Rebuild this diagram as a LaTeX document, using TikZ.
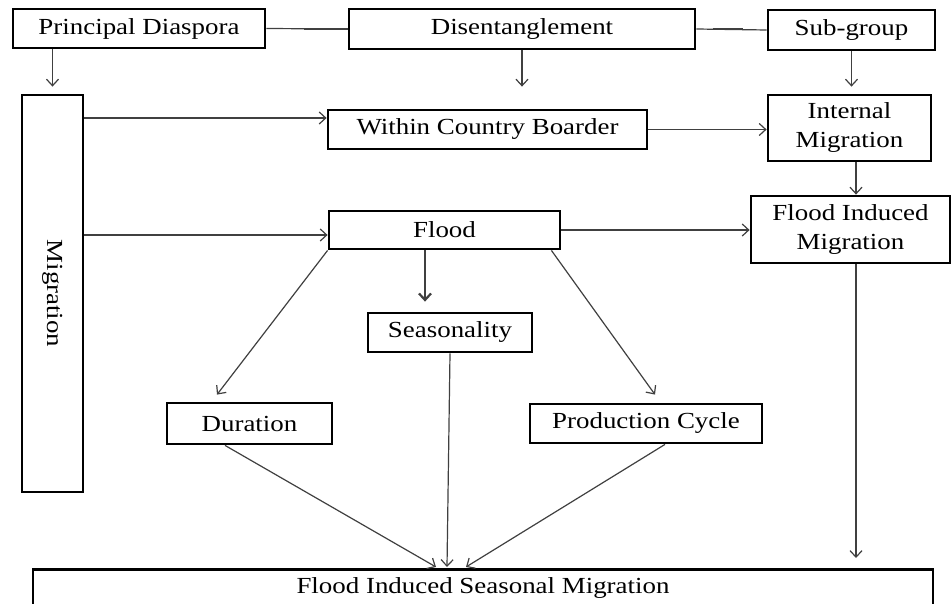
\documentclass[tikz,border=0pt]{standalone}
\usepackage{fontspec}
\setmainfont{Liberation Serif}[FakeStretch=1.17]
\usetikzlibrary{arrows.meta,calc}
\begin{document}
\begin{tikzpicture}[x=1pt,y=-1pt,
  box/.style={draw, line width=2.8pt, inner sep=0pt, font=\fontsize{23}{29}\selectfont, align=center},
  conn/.style={draw=black!75, line width=1.2pt},
  thickseg/.style={draw=black!75, line width=2.8pt},
  arr/.style={conn, -{Straight Barb[length=6.5pt,width=12pt]}}]
\useasboundingbox[fill=white] (0,0) rectangle (951,604);

\node[box, minimum width=252pt, minimum height=39pt] (pd) at (139,28.5) {Principal Diaspora};
\node[box, minimum width=346pt, minimum height=40pt] (dis) at (522,29) {Disentanglement};
\node[box, minimum width=167pt, minimum height=40pt] (sub) at (851.5,30) {Sub-group};
\node[box, minimum width=61pt, minimum height=397pt] (mig) at (52.5,293.5) {\rotatebox{-90}{Migration}};
\node[box, minimum width=319pt, minimum height=39pt] (within) at (487.5,129.5) {Within Country Boarder};
\node[box, minimum width=163pt, minimum height=66pt] (intm) at (849.5,128) {Internal\\Migration};
\node[box, minimum width=231pt, minimum height=38pt] (flood) at (444.5,230) {Flood};
\node[box, minimum width=199pt, minimum height=67pt] (fim) at (850.5,229.5) {Flood Induced\\Migration};
\node[box, minimum width=164pt, minimum height=39pt] (seas) at (450,332.5) {Seasonality};
\node[box, minimum width=165pt, minimum height=41pt] (dur) at (249.5,423.5) {Duration};
\node[box, minimum width=232pt, minimum height=39pt] (pc) at (646,423.5) {Production Cycle};
\node[box, minimum width=900pt, text height=24pt, text depth=60pt, anchor=north] (fism) at (483,568) {Flood Induced Seasonal Migration};

% top connectors
\draw[conn] (pd.east) -- (dis.west);
\draw[thickseg] ($(dis.west)+(-44,0)$) -- (dis.west);
\draw[conn] (dis.east) -- (sub.west);
\draw[thickseg] ($(dis.east)+(17,0)$) -- ($(dis.east)+(47,0)$);

\draw[arr] (pd.south -| mig.north) -- ($(mig.north)+(0,-7)$);
\draw[arr] (dis.south) -- ($(dis.south |- within.north)+(0,-22)$);
\draw[arr] (sub.south) -- ($(sub.south |- intm.north)+(0,-7)$);

\draw[arr] ($(mig.east |- within.west)+(0,-11.5)$) -- ($(within.west)+(0,-11.5)$);
\draw[arr] ($(mig.east |- flood.west)+(0,5)$) -- ($(flood.west)+(0,5)$);
\draw[arr] (within.east) -- (within.east -| intm.west);
\draw[arr] ($(intm.south)+(6.5,0)$) -- ($(intm.south |- fim.north)+(6.5,0)$);
\draw[thickseg, line width=2.4pt] (flood.east) -- ++(60,0);
\draw[arr] (flood.east) -- (flood.east -| fim.west);

\draw[arr, line width=2.2pt] ($(flood.south)+(-19.5,0)$) -- ($(seas.north)+(-25,-10)$);
\draw[arr] (flood.south west) -- ($(dur.north)+(-32.5,-7)$);
\draw[arr] ($(flood.south east)+(-10,0)$) -- ($(pc.north)+(9,-8)$);

\draw[arr] ($(fim.south)+(5.5,0)$) -- ($(fim.south |- fism.north)+(5.5,-10)$);
\draw[arr] ($(dur.south)+(-24.5,0)$) -- ($(fism.north)+(-47,-1)$);
\draw[arr] (seas.south) -- ($(fism.north)+(-36,-1)$);
\draw[arr] ($(pc.south)+(19,0)$) -- ($(fism.north)+(-17,-1)$);
\end{tikzpicture}
\end{document}
